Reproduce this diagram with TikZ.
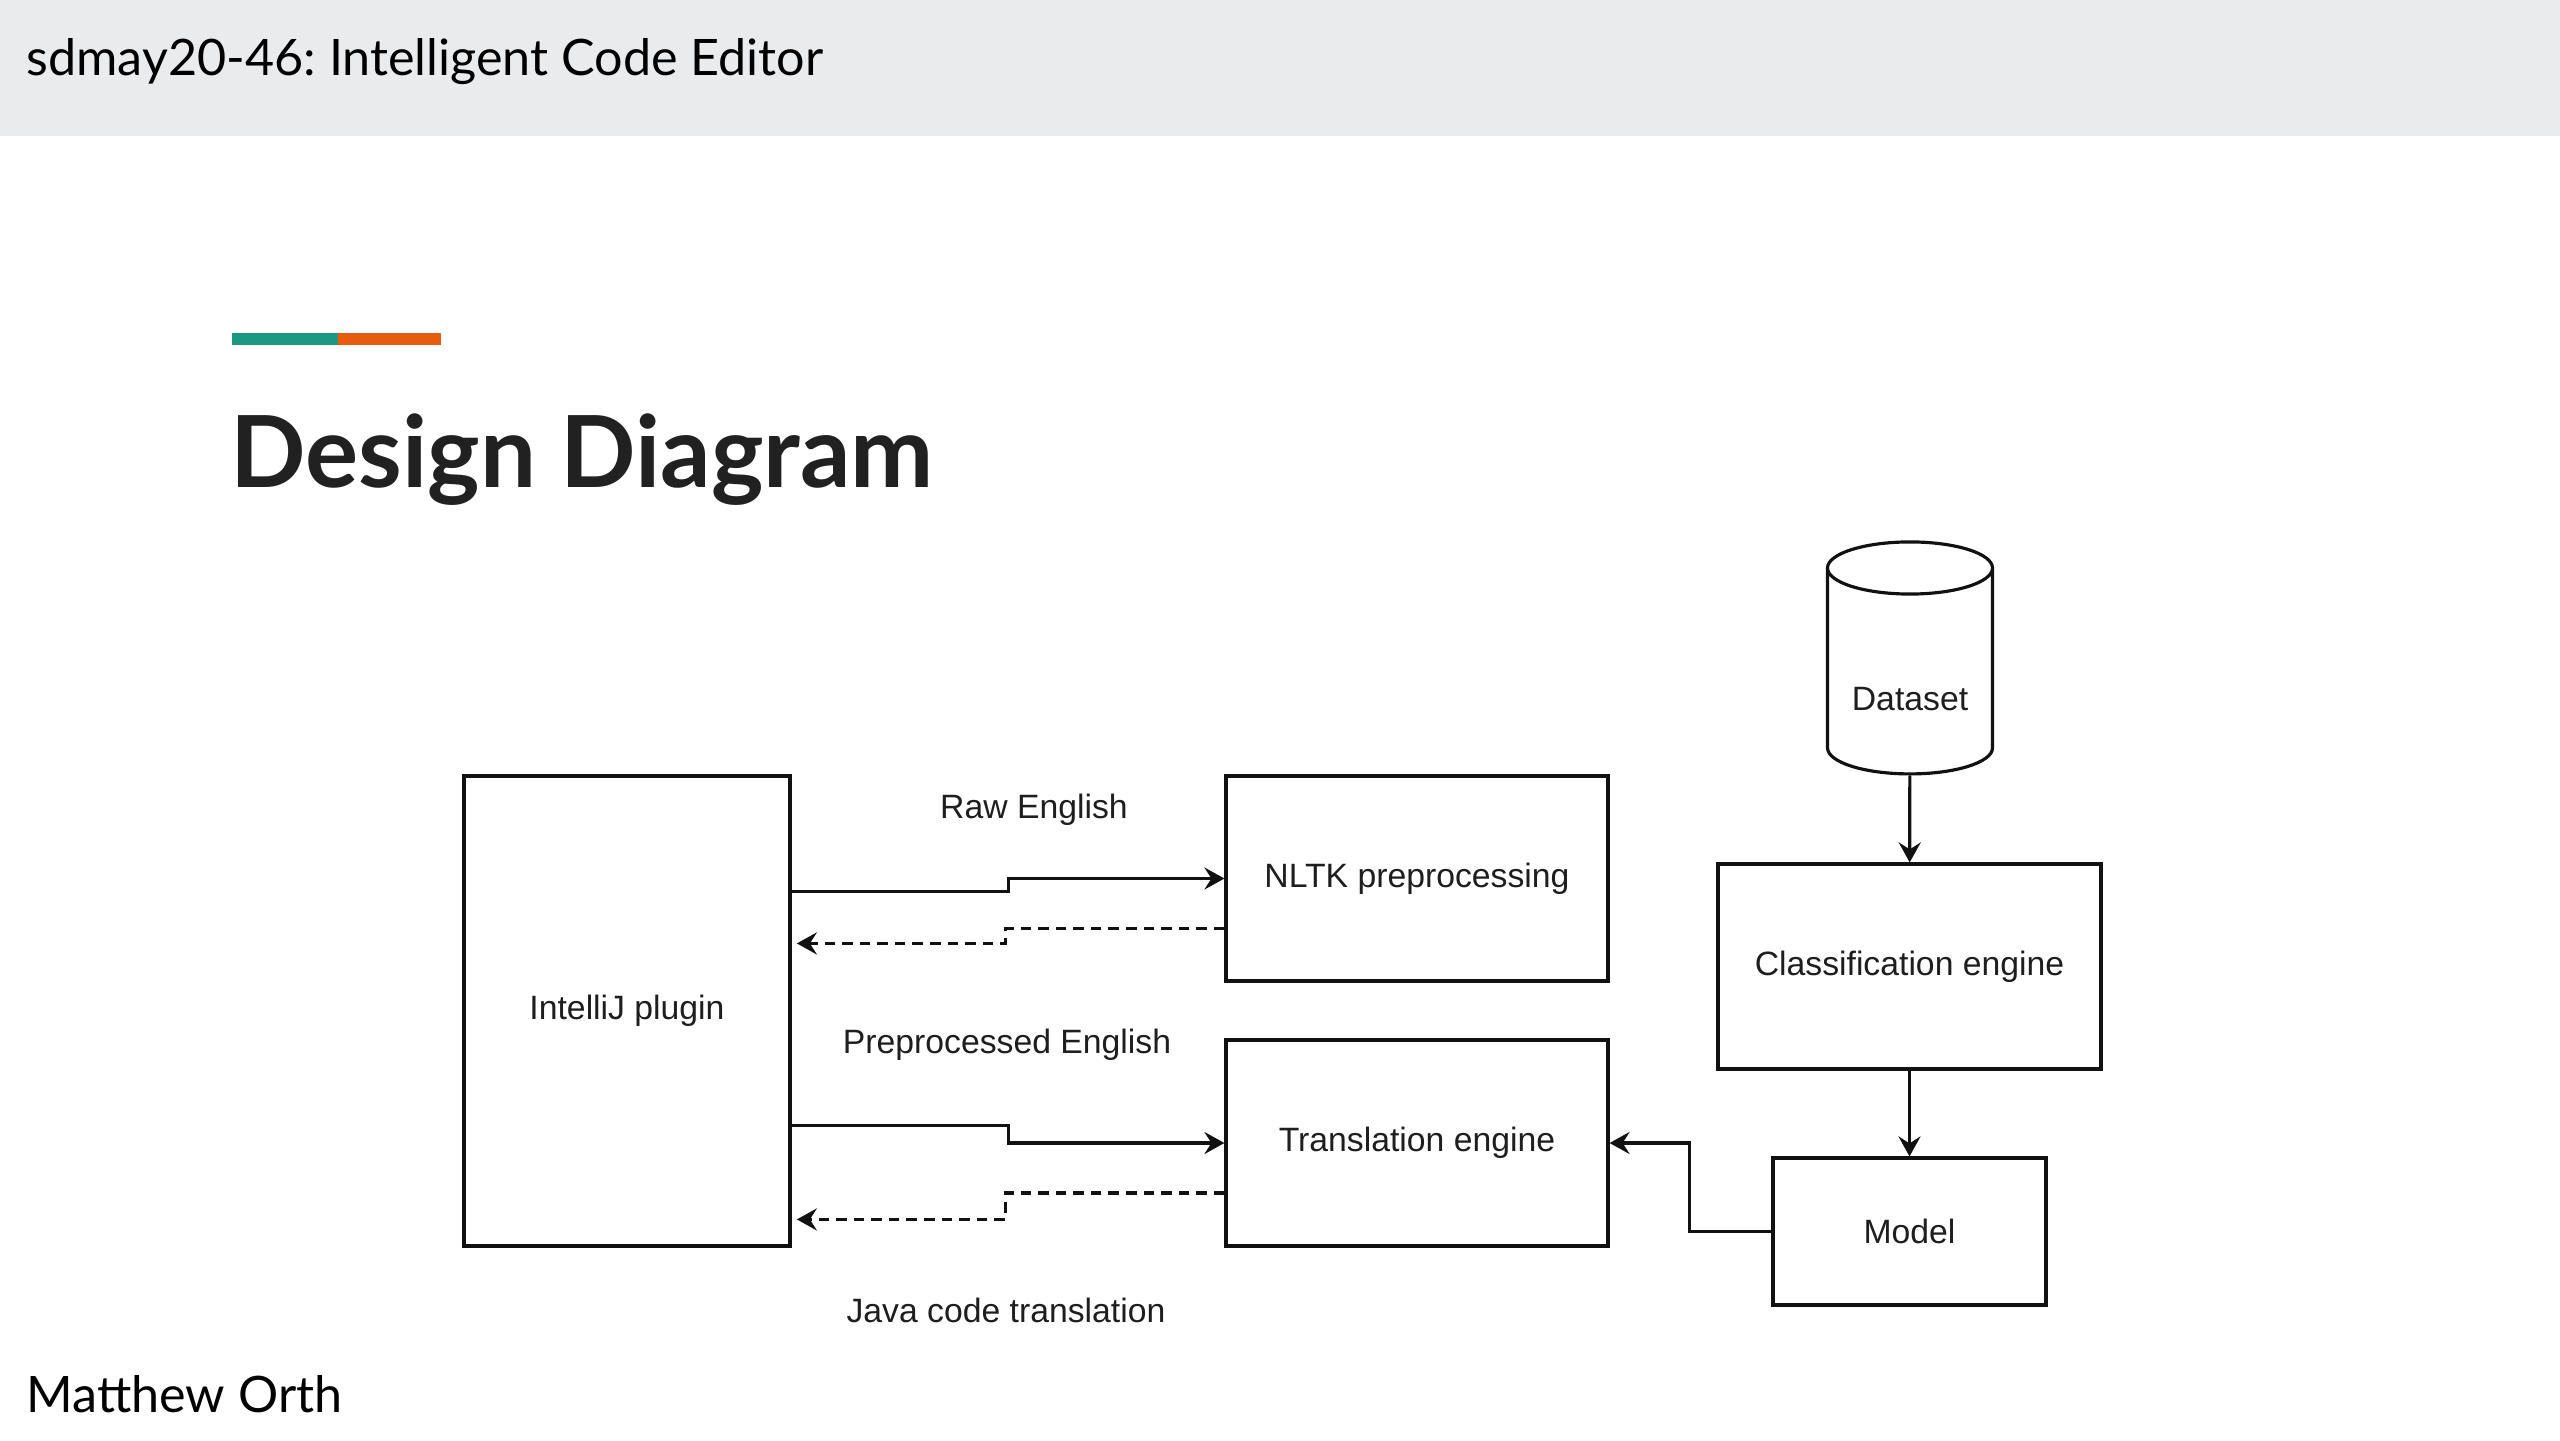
\documentclass[tikz,border=0pt]{standalone}
\usepackage{fontspec}
\setmainfont{Lato}
\newfontfamily\sddiag{Liberation Sans}
\usetikzlibrary{shapes.geometric,arrows.meta,positioning,calc}
\definecolor{sdHead}{HTML}{EAEBED}
\definecolor{sdTeal}{HTML}{1A9882}
\definecolor{sdOrange}{HTML}{E85A0C}
\definecolor{sdTitle}{HTML}{212121}
\definecolor{sdLine}{HTML}{111111}
\definecolor{sdText}{HTML}{1E1E1E}
\tikzset{
  sdbox/.style={draw=sdLine,line width=0.9pt,fill=white,text=sdText,align=center,inner sep=2pt,
                font=\sddiag\fontsize{9.6}{12}\selectfont},
  sddb/.style={sdbox,cylinder,shape border rotate=90,aspect=0.4,minimum width=1.65cm,minimum height=2.32cm},
  sdflow/.style={-{Stealth[length=2mm,width=2.2mm,inset=0.7mm]},draw=sdLine,line width=0.9pt},
  sdback/.style={sdflow,dash pattern=on 3pt off 2pt},
  sdlbl/.style={font=\sddiag\fontsize{9.6}{12}\selectfont,text=sdText,inner sep=1pt},
  sdslide/.style={anchor=base west,inner sep=0pt,text=black,font=\fontsize{14.3}{17}\selectfont},
}

\begin{document}
\frenchspacing
\begin{tikzpicture}
  \useasboundingbox (0,0) rectangle (25.6,-14.4);
  % slide frame
  \fill[sdHead] (0,0) rectangle (25.6,-1.36);
  \node[sdslide] (head) at (0.26,-0.75) {sdmay20-46: Intelligent Code Editor};
  \fill[sdTeal] (2.32,-3.33) rectangle (3.38,-3.45);
  \fill[sdOrange] (3.38,-3.33) rectangle (4.41,-3.45);
  \node[sdslide,text=sdTitle,font=\bfseries\fontsize{28.3}{32}\selectfont] (title) at (2.30,-4.87) {Design Diagram};
  \node[sdslide] (author) at (0.26,-14.12) {Matthew Orth};

  % diagram
  \node[sdbox,minimum width=3.26cm,minimum height=4.70cm] (plugin) at (6.27,-10.11) {IntelliJ plugin};
  \node[sdbox,minimum width=3.82cm,minimum height=2.05cm] (nltk) at (14.17,-8.785) {NLTK preprocessing};
  \node[sdbox,minimum width=3.82cm,minimum height=2.06cm] (trans) at (14.17,-11.43) {Translation engine};
  \node[sdbox,minimum width=3.83cm,minimum height=2.05cm] (cls) at (19.095,-9.665) {Classification engine};
  \node[sdbox,minimum width=2.73cm,minimum height=1.47cm] (model) at (19.095,-12.315) {Model};
  \node[sddb] (data) at (19.10,-6.77) {\raisebox{-0.67cm}{Dataset}};

  \node[sdlbl] (rawlbl) at (10.34,-8.10) {Raw English};
  \node[sdlbl] (prelbl) at (10.07,-10.45) {Preprocessed English};
  \node[sdlbl] (javalbl) at (10.06,-13.10) {Java code translation};

  \draw[sdflow] ([yshift=-1.17cm]plugin.north east) -- ++(2.17,0) |- (nltk.west);
  \draw[sdback,shorten >=1.5pt] ([yshift=-0.5cm]nltk.west) -- ++(-2.19,0) |- ([yshift=-1.69cm]plugin.north east);
  \draw[sdflow] ([yshift=-3.51cm]plugin.north east) -- ++(2.17,0) |- (trans.west);
  \draw[sdback,shorten >=1.5pt] ([yshift=-0.5cm]trans.west) -- ++(-2.19,0) |- ([yshift=-4.45cm]plugin.north east);
  \draw[sdflow] (data) -- (cls);
  \draw[sdflow] (cls) -- (model);
  \draw[sdflow] (model.west) -- ++(-0.82,0) |- (trans.east);
\end{tikzpicture}
\end{document}
